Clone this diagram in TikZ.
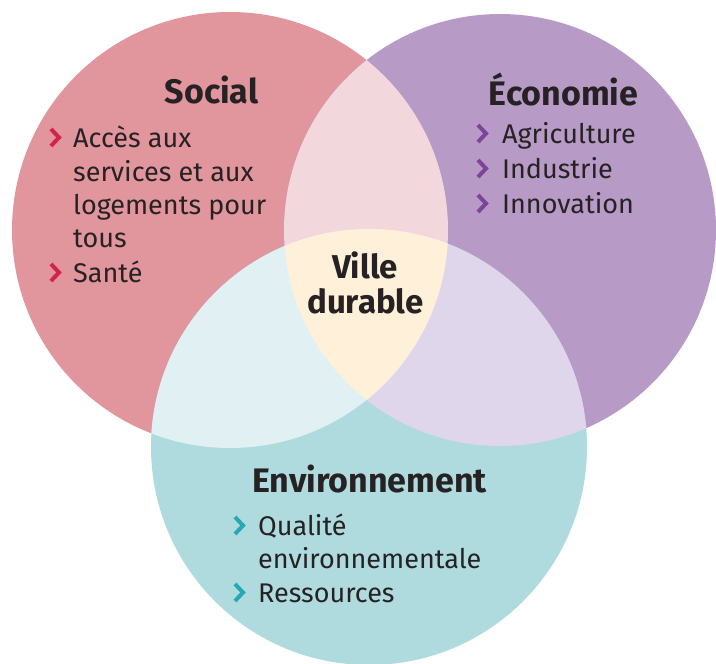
\documentclass[tikz,border=0pt]{standalone}
\usepackage{fontspec}
\setmainfont{Fira Sans}
\definecolor{socfond}{HTML}{E1959C}
\definecolor{ecofond}{HTML}{B79BC6}
\definecolor{envfond}{HTML}{AFDBDE}
\definecolor{soceco}{HTML}{F2D7DC}
\definecolor{socenv}{HTML}{E1F1F3}
\definecolor{ecoenv}{HTML}{E0D6EC}
\definecolor{centre}{HTML}{FEF0D9}
\definecolor{socpuce}{HTML}{D2234A}
\definecolor{ecopuce}{HTML}{7E4499}
\definecolor{envpuce}{HTML}{26A9B3}
\definecolor{encre}{HTML}{262223}
\tikzset{
  titre/.style={font=\fontsize{34}{40}\selectfont\bfseries, text=encre, inner sep=0pt, anchor=base},
  texte/.style={font=\fontsize{27}{32}\selectfont, text=encre, inner sep=0pt, anchor=base west},
  puce/.pic={\draw[line width=4pt, miter limit=10] (0,-18) -- (8,-9.5) -- (0,-1);}
}

\begin{document}
\begin{tikzpicture}[x=1pt, y=-1pt]
    \useasboundingbox (0,0) rectangle (716,664);
    \fill[white] (0,0) rectangle (716,664);
    \coordinate (cs) at (230,230);
    \coordinate (ce) at (500,230);
    \coordinate (cv) at (369,447);
    % les trois cercles
    \fill[socfond] (cs) circle (218pt);
    \fill[ecofond] (ce) circle (216pt);
    \fill[envfond] (cv) circle (218pt);
    % intersections
    \begin{scope}
        \clip (ce) circle (216pt);
        \fill[ecoenv] (cv) circle (218pt);
    \end{scope}
    \begin{scope}
        \clip (cs) circle (218pt);
        \fill[soceco] (ce) circle (216pt);
        \fill[socenv] (cv) circle (218pt);
        \clip (ce) circle (216pt);
        \fill[centre] (cv) circle (218pt);
    \end{scope}

    % Social
    \node (social) at (211.5,103) [titre] {Social};
    \node (s1) at (73,147) [texte] {Accès aux};
    \node (s1b) at (73,181) [texte] {services et aux};
    \node (s1c) at (73,214) [texte] {logements pour};
    \node (s1d) at (73,247) [texte] {tous};
    \node (s2) at (73,282) [texte] {Santé};
    \pic[socpuce] at (51,147) {puce};
    \pic[socpuce] at (51,282) {puce};

    % Economie
    \node (eco) at (563.5,105) [titre] {Économie};
    \node (e1) at (502,143) [texte] {Agriculture};
    \node (e2) at (502,178) [texte] {Industrie};
    \node (e3) at (502,213) [texte] {Innovation};
    \foreach \y in {143,178,213} \pic[ecopuce] at (478,\y) {puce};

    % Environnement
    \node (env) at (369.5,492) [titre] {Environnement};
    \node (v1) at (258,535) [texte] {Qualité};
    \node (v1b) at (258,568) [texte] {environnementale};
    \node (v2) at (258,602) [texte] {Ressources};
    \pic[envpuce] at (235,535) {puce};
    \pic[envpuce] at (235,602) {puce};

    % centre
    \node (ville) at (365,278) [titre, font=\fontsize{33}{40}\selectfont\bfseries] {Ville};
    \node (durable) at (365.5,313) [titre, font=\fontsize{33}{40}\selectfont\bfseries] {durable};
\end{tikzpicture}
\end{document}
